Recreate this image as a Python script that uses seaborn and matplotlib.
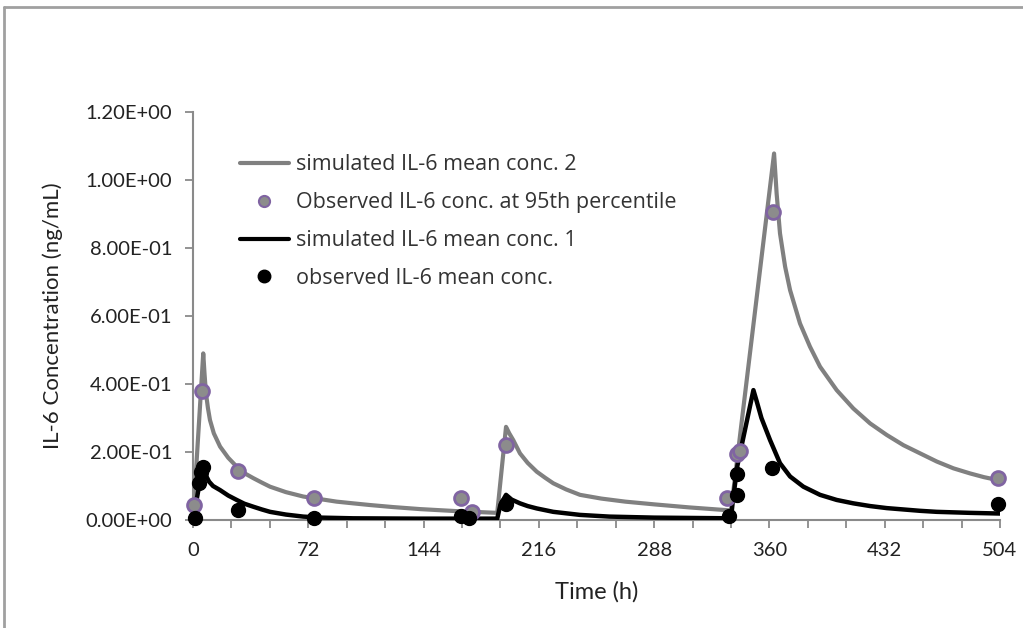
import numpy as np
import pandas as pd
import matplotlib
matplotlib.use("Agg")
import matplotlib.pyplot as plt
import seaborn as sns
from matplotlib.lines import Line2D
from matplotlib.ticker import FixedLocator, FuncFormatter

# ---------------- data ----------------
t_sim2 = [0, 6.4, 7.2, 8.1, 9.3, 10.6, 13, 16.9, 22, 27.3, 32, 37.7, 43, 48.1, 58, 68.9, 80,
          89.7, 100, 110.6, 125, 142, 165, 190,
          195.5, 197.5, 200, 204.2, 209, 214.7, 220, 225, 233, 241.7, 255, 270, 288, 310, 336,
          362.9, 364.5, 366.6, 369.8, 372.9, 379.1, 385.3, 391.6, 402, 412.4, 422.9, 433.3,
          443.7, 454.1, 464.5, 474.9, 485.3, 494, 504]
conc_sim2 = [0.0, 0.49, 0.43, 0.373, 0.33, 0.294, 0.255, 0.216, 0.183, 0.157, 0.138, 0.123, 0.11,
             0.098, 0.082, 0.069, 0.061, 0.054, 0.049, 0.044, 0.038, 0.032, 0.026, 0.021,
             0.274, 0.255, 0.235, 0.196, 0.168, 0.142, 0.124, 0.108, 0.09, 0.074, 0.063, 0.054,
             0.046, 0.037, 0.028,
             1.078, 0.96, 0.843, 0.745, 0.676, 0.578, 0.51, 0.451, 0.382, 0.328, 0.284, 0.25,
             0.22, 0.196, 0.172, 0.152, 0.137, 0.126, 0.116]

t_sim1 = [0, 6.4, 7.3, 8.5, 10, 12.5, 16.9, 22, 27.3, 32, 37.7, 43, 48.1, 58, 68.9, 80, 100,
          140, 190,
          192, 195.5, 199, 204.2, 209, 214.7, 225, 241.7, 260, 288, 336,
          337, 340, 350, 352, 355, 360.4, 366.6, 372.9, 381.2, 391.6, 402, 412.4, 422.9, 433.3,
          443.7, 454.1, 464.5, 485.3, 504]
conc_sim1 = [0.0, 0.168, 0.148, 0.127, 0.113, 0.1, 0.088, 0.072, 0.059, 0.048, 0.039, 0.031,
             0.024, 0.016, 0.01, 0.007, 0.005, 0.004, 0.004,
             0.045, 0.074, 0.06, 0.049, 0.041, 0.034, 0.024, 0.015, 0.01, 0.007, 0.005,
             0.05, 0.16, 0.382, 0.35, 0.3, 0.235, 0.167, 0.128, 0.098, 0.074, 0.059, 0.049,
             0.041, 0.035, 0.031, 0.027, 0.024, 0.021, 0.019]

t_obs95 = [0.5, 5.5, 28, 75.6, 167.2, 174, 195.5, 333.5, 339.5, 341.8, 362, 503]
conc_obs95 = [0.045, 0.378, 0.143, 0.064, 0.066, 0.025, 0.22, 0.064, 0.195, 0.203, 0.907, 0.123]

t_obsmean = [1, 4, 5, 6.5, 28, 75.5, 167.5, 172.5, 195.5, 334.5, 339.5, 339.8, 361.5, 502.5]
conc_obsmean = [0.005, 0.108, 0.14, 0.157, 0.03, 0.005, 0.012, 0.006, 0.047, 0.012, 0.075,
                0.135, 0.152, 0.047]

x_ticks = [0, 72, 144, 216, 288, 360, 432, 504]
y_ticks = [0.0, 0.2, 0.4, 0.6, 0.8, 1.0, 1.2]

labels = ["simulated IL-6 mean conc. 2",
          "Observed IL-6 conc. at 95th percentile",
          "simulated IL-6 mean conc. 1",
          "observed IL-6 mean conc."]

# ---------------- plotting ----------------
sns.set_theme(style="white")
plt.rcParams['font.family'] = ['Lato', 'DejaVu Sans']

fig = plt.figure(figsize=(10.23, 6.28), dpi=100)
ax = fig.add_axes([193 / 1023, 1 - 520 / 628, (1000 - 193) / 1023, (520 - 112) / 628])

df2 = pd.DataFrame({"t": t_sim2, "c": conc_sim2})
df1 = pd.DataFrame({"t": t_sim1, "c": conc_sim1})
dfo95 = pd.DataFrame({"t": t_obs95, "c": conc_obs95})
dfom = pd.DataFrame({"t": t_obsmean, "c": conc_obsmean})

gray = "#808080"
purple = "#8064A2"

sns.lineplot(data=df2, x="t", y="c", ax=ax, color=gray, lw=3, sort=False, estimator=None,
             zorder=2)
sns.lineplot(data=df1, x="t", y="c", ax=ax, color="black", lw=3.2, sort=False, estimator=None,
             zorder=3)
sns.scatterplot(data=dfo95, x="t", y="c", ax=ax, s=100, color="#8C8C8C", edgecolor=purple,
                linewidth=2, zorder=4, clip_on=False)
sns.scatterplot(data=dfom, x="t", y="c", ax=ax, s=100, color="black", edgecolor="black",
                linewidth=1, zorder=5, clip_on=False)

ax.set_xlim(0, 504)
ax.set_ylim(0, 1.2)
ax.xaxis.set_major_locator(FixedLocator(x_ticks))
ax.xaxis.set_minor_locator(FixedLocator(list(range(0, 505, 24))))
ax.yaxis.set_major_locator(FixedLocator(y_ticks))
ax.yaxis.set_major_formatter(FuncFormatter(lambda v, p: f"{v:.2E}"))

for s in ["top", "right"]:
    ax.spines[s].set_visible(False)
for s in ["left", "bottom"]:
    ax.spines[s].set_color("#8a8a8a")
    ax.spines[s].set_linewidth(1.5)

ax.tick_params(axis="both", which="both", direction="out", color="#8a8a8a", width=1.3,
               length=6, labelcolor="#222222", labelsize=14.5)
ax.tick_params(axis="x", which="both", bottom=True, pad=10)
ax.tick_params(axis="y", left=True, pad=9)

ax.set_xlabel("Time (h)", fontsize=17, color="#222222", labelpad=16)
ax.set_ylabel("IL-6 Concentration (ng/mL)", fontsize=16, color="#222222", labelpad=16)

handles = [
    Line2D([], [], color=gray, lw=3),
    Line2D([], [], ls="none", marker="o", markersize=8, markerfacecolor="#8C8C8C",
           markeredgecolor=purple, markeredgewidth=1.5),
    Line2D([], [], color="black", lw=3),
    Line2D([], [], ls="none", marker="o", markersize=9, markerfacecolor="black",
           markeredgecolor="black"),
]
leg = ax.legend(handles, labels, loc="upper left", bbox_to_anchor=(0.054, 0.915), frameon=False,
                prop={"family": "Open Sans", "size": 15.5}, handlelength=2.3, handletextpad=0.3,
                labelspacing=0.78, borderaxespad=0)
leg.set_bbox_to_anchor((0.047, 0.917), transform=ax.transAxes)
for txt in leg.get_texts():
    txt.set_color("#333333")

# figure frame (left and top edges visible in the reference)
fig.add_artist(Line2D([4 / 1023, 4 / 1023], [0, 1 - 7 / 628], transform=fig.transFigure,
                      color="#a0a0a0", lw=2))
fig.add_artist(Line2D([4 / 1023, 1], [1 - 7 / 628, 1 - 7 / 628], transform=fig.transFigure,
                      color="#a0a0a0", lw=2))

fig.savefig("out.png", dpi=100)
